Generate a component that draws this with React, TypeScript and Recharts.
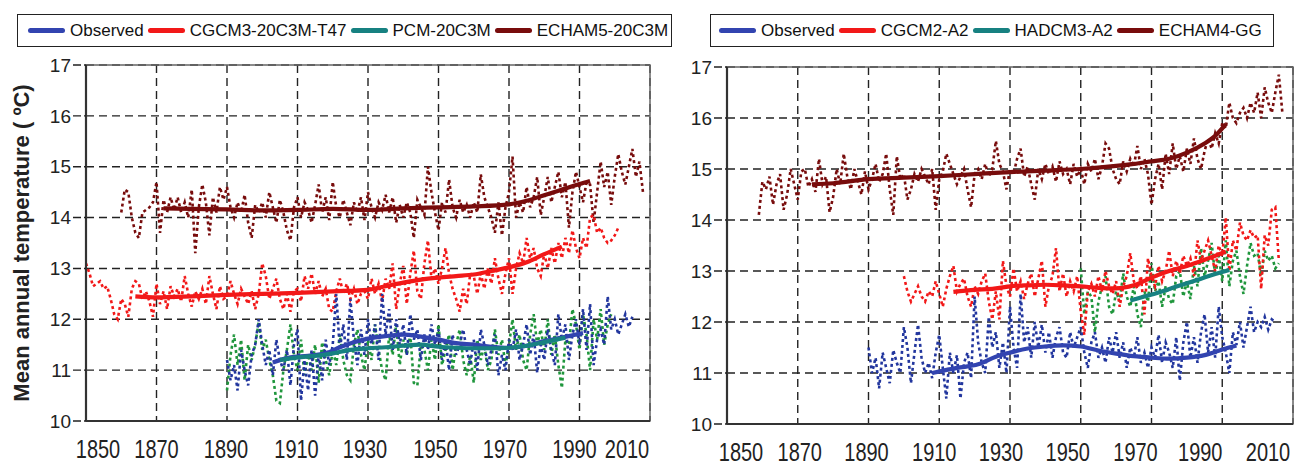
import React from "react";
import {
  LineChart,
  Line,
  XAxis,
  YAxis,
  CartesianGrid,
  ReferenceArea,
} from "recharts";

document.body.style.margin = "0";

const FONT = '"Liberation Sans", Arial, Helvetica, sans-serif';

const yearTicks = [1850, 1870, 1890, 1910, 1930, 1950, 1970, 1990, 2010];
const tempTicks = [10, 11, 12, 13, 14, 15, 16, 17];

// ---------- left panel (20C3M runs) ----------
const obsLeftStart = 1890;
const obsLeft = [
  11.2, 10.8, 11.1, 10.6, 11.4, 11.0, 10.7, 11.3, 11.5, 12.0,
  11.5, 11.1, 11.4, 10.9, 11.6, 11.2, 11.0, 11.4, 10.7, 11.5,
  11.8, 10.4, 11.2, 10.6, 11.4, 10.5, 11.3, 10.8, 11.6, 11.1,
  11.5, 12.5, 11.4, 11.9, 11.2, 12.4, 11.6, 11.1, 11.8, 11.3,
  12.0, 11.5, 11.9, 11.2, 12.5, 11.7, 12.2, 11.4, 12.0, 11.5,
  11.9, 11.3, 12.1, 11.6, 11.8, 11.2, 11.7, 11.4, 11.9, 11.5,
  11.8, 11.2, 11.6, 11.0, 11.7, 11.3, 11.5, 11.8, 11.4, 11.1,
  11.6, 11.0, 11.8, 11.5, 11.1, 11.4, 11.7, 10.9, 11.3, 11.0,
  11.6, 11.4, 11.8, 11.2, 11.5, 11.9, 11.3, 11.7, 10.95, 11.5,
  11.2, 11.8, 11.4, 11.1, 12.1, 11.6, 11.9, 11.2, 11.7, 12.0,
  11.5, 12.2, 11.4, 12.3, 11.1, 11.6, 11.8, 11.5, 12.45, 11.8,
  12.0, 11.7, 11.9, 12.1, 11.85, 12.05,
];
const obsLeftSmoothYears = [1903, 1908, 1913, 1918, 1922, 1926, 1930, 1935, 1940, 1945, 1950, 1955, 1960, 1965, 1970, 1975, 1980, 1985, 1991];
const obsLeftSmooth = [11.15, 11.25, 11.28, 11.33, 11.45, 11.55, 11.62, 11.67, 11.7, 11.66, 11.6, 11.53, 11.5, 11.46, 11.44, 11.48, 11.57, 11.64, 11.73];

const cgcm3Start = 1850;
const cgcm3 = [
  13.1, 12.9, 12.65, 12.7, 12.75, 12.6, 12.65, 12.4, 12.1, 12.0,
  12.4, 12.3, 12.05, 12.6, 12.75, 12.7, 12.4, 12.55, 12.35, 12.05,
  12.7, 12.3, 12.55, 12.2, 12.65, 12.45, 12.6, 12.35, 12.85, 12.5,
  12.25, 12.55, 12.4, 12.6, 12.3, 12.85, 12.5, 12.2, 12.65, 12.4,
  12.45, 12.75, 12.5, 12.3, 12.6, 12.45, 12.3, 12.55, 12.2, 12.5,
  13.1, 12.85, 12.4, 12.6, 12.8, 12.4, 12.2, 12.5, 12.15, 12.55,
  12.6, 12.35, 12.85, 12.6, 12.9, 12.5, 12.75, 12.45, 12.6, 12.2,
  12.15, 12.55, 12.8, 12.5, 12.7, 12.4, 12.6, 12.3, 12.5, 12.55,
  12.4, 12.8, 12.5, 12.7, 12.35, 12.8, 12.6, 13.1, 12.2, 12.7,
  13.05, 12.3, 12.9, 13.35, 12.55, 12.4, 13.1, 13.55, 12.8, 13.0,
  12.7, 13.0, 13.4, 12.9, 12.6, 12.4, 12.15, 12.6, 12.3, 12.9,
  12.85, 12.5, 12.9, 12.6, 13.0, 12.7, 13.2, 12.8, 12.5, 12.9,
  13.2, 12.5, 13.0, 13.3, 13.1, 13.6, 13.2, 13.4, 13.0, 12.85,
  13.3, 13.0, 13.4, 13.1, 13.5, 13.2, 13.6, 13.3, 13.75, 13.4,
  13.2, 13.6, 13.4, 14.0, 14.05, 13.7, 13.8, 13.6, 13.5, 13.55,
  13.65, 13.8,
];
const cgcm3SmoothYears = [1864, 1870, 1880, 1890, 1900, 1910, 1920, 1930, 1935, 1940, 1945, 1950, 1955, 1960, 1965, 1970, 1975, 1980, 1985];
const cgcm3Smooth = [12.45, 12.43, 12.45, 12.48, 12.5, 12.52, 12.55, 12.58, 12.65, 12.72, 12.78, 12.82, 12.85, 12.88, 12.95, 13.02, 13.12, 13.28, 13.43];

const pcmStart = 1890;
const pcm = [
  10.6, 11.3, 11.7, 11.1, 11.6, 10.8, 11.5, 11.2, 11.5, 11.95,
  11.4, 11.6, 11.2, 10.9, 10.4, 10.35, 11.0, 11.4, 11.9, 11.3,
  11.0, 11.6, 10.9, 11.3, 11.0, 11.5, 10.75, 11.55, 11.2, 10.9,
  11.4, 11.1, 11.7, 11.2, 10.9, 10.8, 11.5, 11.8, 11.3, 11.0,
  11.6, 11.2, 11.9, 11.4, 11.0, 10.8, 11.7, 11.3, 11.9, 11.1,
  11.6, 11.3, 11.7, 10.75, 10.7, 11.5, 11.4, 11.0, 11.6, 11.2,
  11.9, 11.1, 11.4, 11.7, 11.0, 11.5, 11.8, 11.2, 10.9, 11.3,
  10.75, 11.6, 11.2, 11.5, 11.0, 11.2, 11.8, 11.3, 11.6, 11.1,
  11.5, 12.0, 11.4, 11.7, 11.2, 11.0, 11.7, 12.1, 11.5, 11.8,
  11.4, 12.0, 11.3, 11.7, 11.1, 10.65, 11.6, 11.5, 12.2, 11.9,
  11.4, 12.1, 11.7, 11.0, 12.0, 11.6, 12.2, 11.5, 11.9, 12.1,
];
const pcmSmoothYears = [1905, 1910, 1915, 1920, 1925, 1930, 1935, 1940, 1945, 1950, 1955, 1960, 1965, 1970, 1975, 1980, 1986];
const pcmSmooth = [11.2, 11.25, 11.28, 11.33, 11.4, 11.43, 11.45, 11.48, 11.5, 11.46, 11.44, 11.43, 11.43, 11.44, 11.48, 11.55, 11.64];

const echam5Start = 1860;
const echam5 = [
  14.1, 14.55, 14.5, 14.0, 13.7, 13.6, 14.1, 14.15, 14.2, 14.3,
  14.7, 13.7, 14.35, 14.1, 14.4, 14.15, 14.4, 14.1, 14.3, 14.0,
  14.55, 13.3, 14.2, 14.65, 14.3, 13.65, 14.4, 14.1, 14.6, 14.35,
  14.6, 14.2, 14.0, 14.3, 14.1, 14.45, 13.9, 13.6, 14.25, 14.1,
  14.3, 14.0, 14.5, 14.2, 13.9, 14.35, 14.1, 13.75, 13.55, 14.2,
  14.4, 14.0, 14.3, 14.15, 13.9, 14.25, 14.65, 14.1, 14.4, 13.95,
  14.7, 14.2, 14.0, 14.35, 14.1, 13.85, 14.3, 14.1, 14.4, 13.95,
  14.5, 14.2, 14.0, 14.3, 14.15, 14.45, 14.1, 14.4, 13.9, 14.25,
  14.0, 14.3, 14.1, 13.6, 14.35, 14.2, 14.05, 15.0, 14.5, 14.1,
  13.75, 14.3, 14.1, 14.75, 14.2, 14.0, 14.35, 14.1, 14.25, 14.0,
  14.3, 14.1, 14.85, 14.4, 14.2, 14.0, 13.7, 14.3, 13.65, 14.2,
  14.5, 15.2, 14.0, 14.3, 14.1, 14.6, 14.2, 14.4, 14.8, 14.05,
  14.4, 14.8, 14.3, 14.6, 14.9, 14.4, 14.7, 13.8, 14.5, 14.9,
  14.6, 14.3, 14.7, 14.65, 13.9, 14.5, 15.1, 14.6, 14.9, 14.25,
  14.8, 15.25, 14.9, 14.65, 15.0, 15.35, 14.8, 15.1, 14.5,
];
const echam5SmoothYears = [1872, 1880, 1890, 1900, 1910, 1920, 1930, 1940, 1950, 1960, 1970, 1975, 1980, 1985, 1990, 1993];
const echam5Smooth = [14.18, 14.17, 14.16, 14.14, 14.15, 14.17, 14.15, 14.18, 14.2, 14.22, 14.26, 14.33, 14.44, 14.55, 14.66, 14.72];

// ---------- right panel (A2 / GG runs) ----------
const obsRightStart = 1890;
const obsRight = [
  11.5, 11.0, 11.3, 10.7, 11.4, 11.1, 10.8, 11.45, 11.2, 11.0,
  11.9, 11.5, 10.8, 11.4, 11.95, 11.3, 11.0, 11.2, 10.9, 11.4,
  11.75, 11.1, 10.5, 11.4, 11.0, 11.35, 10.5, 11.2, 11.4, 10.9,
  12.5, 11.6, 11.2, 11.0, 12.1, 11.5, 11.8, 11.1, 11.6, 11.0,
  12.3, 11.5, 11.1, 12.55, 11.6, 11.9, 11.3, 12.0, 11.5, 11.95,
  11.4, 11.8, 11.3, 11.7, 11.9, 11.4, 11.3, 11.8, 11.5, 11.7,
  11.9, 11.4, 11.1, 11.6, 11.8, 11.3, 11.5, 11.2, 11.7, 11.4,
  11.8, 11.3, 11.6, 11.1, 11.5, 11.3, 11.7, 11.2, 11.4, 11.1,
  11.5, 11.3, 11.75, 11.2, 11.6, 11.4, 11.1, 11.7, 10.85, 11.6,
  12.0, 11.3, 11.7, 11.2, 11.8, 12.15, 11.4, 11.9, 11.3, 12.3,
  11.7, 11.4, 11.0, 11.8, 11.55, 12.0, 11.5, 11.9, 12.3, 11.8,
  12.0, 11.9, 12.1, 11.85, 12.05, 12.0,
];
const obsRightSmoothYears = [1908, 1915, 1921, 1926, 1930, 1935, 1940, 1945, 1950, 1955, 1960, 1965, 1970, 1975, 1980, 1985, 1990, 1994];
const obsRightSmooth = [11.0, 11.1, 11.17, 11.32, 11.4, 11.48, 11.52, 11.54, 11.52, 11.44, 11.38, 11.33, 11.3, 11.28, 11.3, 11.35, 11.46, 11.54];

const cgcm2Start = 1900;
const cgcm2 = [
  12.9, 12.6, 12.4, 12.55, 12.7, 12.5, 12.4, 12.6, 12.5, 12.8,
  12.55, 12.3, 12.65, 12.9, 13.1, 12.6, 12.75, 12.85, 12.5, 12.3,
  12.7, 12.55, 12.8, 12.95, 12.4, 12.05, 12.6, 12.05, 13.2, 12.7,
  12.5, 13.05, 12.6, 12.8, 12.45, 12.75, 12.95, 12.5, 12.85, 13.2,
  12.3, 12.7, 12.9, 13.45, 12.6, 12.95, 12.5, 12.8, 12.6, 12.9,
  12.2, 11.75, 12.6, 12.75, 12.5, 12.9, 12.6, 13.0, 12.7, 12.55,
  12.8, 12.3, 12.7, 12.9, 13.35, 12.8, 12.65, 12.9, 12.15, 13.25,
  12.9, 12.7, 13.1, 12.8, 13.0, 13.4, 12.9, 13.2, 12.95, 13.3,
  13.1, 13.25, 12.9, 13.6, 13.2, 13.4, 13.6, 13.3, 13.0, 13.5,
  13.3, 14.05, 13.0, 13.6, 13.4, 13.95, 13.7, 13.6, 13.8, 13.65,
  13.7, 12.65, 13.7, 13.5, 14.2, 14.25, 13.2,
];
const cgcm2SmoothYears = [1914, 1920, 1925, 1930, 1935, 1940, 1945, 1950, 1955, 1960, 1965, 1970, 1975, 1980, 1985, 1991];
const cgcm2Smooth = [12.59, 12.63, 12.65, 12.7, 12.72, 12.73, 12.72, 12.7, 12.67, 12.66, 12.72, 12.87, 13.0, 13.1, 13.22, 13.38];

const hadcm3Start = 1950;
const hadcm3 = [
  13.05, 12.15, 12.6, 12.5, 11.8, 12.4, 12.7, 12.9, 12.3, 12.15,
  12.6, 12.4, 12.95, 12.5, 12.3, 12.7, 12.15, 11.9, 12.6, 12.4,
  13.15, 12.6, 12.8, 12.3, 12.7, 12.45, 12.35, 12.9, 13.0, 12.5,
  12.8, 12.45, 13.1, 12.7, 13.45, 12.9, 13.2, 13.55, 12.9, 13.3,
  12.8, 13.6, 12.7, 13.2, 13.4, 12.9, 12.55, 13.1, 13.55, 13.3,
  13.35, 12.9, 13.4, 13.2, 13.3, 13.05, 13.15,
];
const hadcm3SmoothYears = [1964, 1968, 1972, 1976, 1980, 1984, 1988, 1992];
const hadcm3Smooth = [12.42, 12.5, 12.58, 12.67, 12.76, 12.85, 12.94, 13.02];

const echam4Start = 1859;
const echam4 = [
  14.1, 14.75, 14.6, 14.85, 14.3, 14.7, 14.9, 14.2, 14.5, 15.0, 14.7,
  14.4, 14.95, 15.0, 14.65, 14.8, 14.55, 15.2, 14.7, 14.85, 14.15,
  14.45, 15.0, 14.7, 15.3, 14.85, 14.6, 15.0, 14.75, 14.5, 14.95,
  14.6, 14.8, 15.1, 14.75, 14.9, 15.3, 14.6, 14.1, 15.25, 14.8,
  14.9, 14.4, 14.6, 14.9, 14.75, 15.0, 14.85, 14.7, 15.0, 14.2,
  14.8, 14.95, 15.3, 15.1, 14.9, 14.7, 14.85, 15.0, 14.6, 14.25,
  14.9, 15.0, 14.8, 15.1, 14.85, 15.0, 15.55, 15.1, 14.95, 14.6,
  15.0, 14.9, 15.2, 15.4, 14.85, 15.05, 14.7, 14.4, 15.0, 14.8,
  15.1, 14.9, 15.05, 14.75, 15.15, 14.9, 15.0, 14.7, 15.1, 14.85,
  15.0, 14.7, 15.1, 14.95, 15.2, 14.8, 15.05, 15.5, 15.4, 15.0,
  14.8, 14.7, 15.15, 14.95, 15.2, 15.05, 15.45, 15.0, 15.2, 14.9,
  14.3, 14.8, 15.1, 14.6, 15.3, 14.9, 15.5, 15.0, 15.25, 14.95,
  15.4, 15.1, 15.6, 15.2, 15.0, 15.35, 15.6, 15.4, 15.7, 15.5,
  15.9, 15.8, 16.3, 16.0, 15.9, 16.1, 16.2, 16.0, 16.3, 16.1,
  16.5, 16.0, 16.6, 16.3, 16.1, 16.5, 16.85, 16.1,
];
const echam4SmoothYears = [1874, 1880, 1890, 1900, 1910, 1920, 1930, 1940, 1950, 1960, 1965, 1970, 1975, 1980, 1985, 1988, 1991];
const echam4Smooth = [14.7, 14.72, 14.8, 14.83, 14.86, 14.9, 14.94, 14.97, 15.0, 15.06, 15.1, 15.15, 15.2, 15.32, 15.5, 15.65, 15.88];

// ---------- colours ----------
const BLUE = "#22369e";
const BLUE_SMOOTH = "#3244b0";
const RED = "#f21818";
const GREEN = "#1f963c";
const TEAL = "#178181";
const DARK_RED = "#780c0c";

const annual = (start: number, values: number[]) =>
  values.map((t, i) => ({ year: start + i, t }));
const smooth = (years: number[], values: number[]) =>
  years.map((year, i) => ({ year, t: values[i] }));

const DOTS = "3 3";

function YearTick(props: any) {
  const { x, y, payload, index, shifts } = props;
  const dx = shifts[index] ?? 0;
  return (
    <g transform={`translate(${x + dx},${y + 28}) scale(1,1.3)`}>
      <text
        x={0}
        y={0}
        textAnchor="middle"
        dominantBaseline="central"
        fontSize={20}
        fontFamily={FONT}
        fill="#222"
      >
        {payload.value}
      </text>
    </g>
  );
}

function YLabel(props: any) {
  const vb = props.viewBox || { x: 0, y: 65, width: 86, height: 356 };
  const cx = vb.x + 21;
  const cy = vb.y + vb.height / 2;
  return (
    <text
      x={cx}
      y={cy}
      transform={`rotate(-90 ${cx} ${cy})`}
      textAnchor="middle"
      dominantBaseline="central"
      fontSize={22}
      fontWeight="bold"
      fontFamily={FONT}
      fill="#222"
    >
      Mean annual temperature ( ºC)
    </text>
  );
}

interface LegendItem {
  name: string;
  color: string;
}

function LegendBox({ items, left, width, pad }: { items: LegendItem[]; left: number; width: number; pad: number }) {
  return (
    <div
      style={{
        position: "absolute",
        left,
        top: 14,
        width,
        height: 33,
        boxSizing: "border-box",
        border: "1.5px solid #222",
        display: "flex",
        alignItems: "center",
        paddingLeft: pad,
        fontFamily: FONT,
        fontSize: 17,
        color: "#111",
        background: "#fff",
        whiteSpace: "nowrap",
      }}
    >
      {items.map((it) => (
        <span key={it.name} style={{ display: "flex", alignItems: "center", marginRight: 4 }}>
          <span style={{ width: 37, height: 5, borderRadius: 3, background: it.color, marginRight: 5 }} />
          <span>{it.name}</span>
        </span>
      ))}
    </div>
  );
}

interface Series {
  annual: { year: number; t: number }[];
  smooth: { year: number; t: number }[];
  dotColor: string;
  lineColor: string;
}

function Panel({
  width,
  margin,
  yAxisWidth,
  series,
  shifts,
  withLabel,
}: {
  width: number;
  margin: { top: number; right: number; bottom: number; left: number };
  yAxisWidth: number;
  series: Series[];
  shifts: number[];
  withLabel: boolean;
}) {
  return (
    <LineChart width={width} height={469} margin={margin}>
      <CartesianGrid stroke="#222" strokeDasharray="8 5" strokeWidth={1.4} />
      <XAxis
        type="number"
        dataKey="year"
        domain={[1850, 2010]}
        ticks={yearTicks}
        interval={0}
        allowDataOverflow
        height={40}
        tickSize={0}
        tickMargin={0}
        tickLine={false}
        axisLine={{ stroke: "#333", strokeWidth: 2.2 }}
        tick={<YearTick shifts={shifts} />}
      />
      <YAxis
        type="number"
        domain={[10, 17]}
        ticks={tempTicks}
        interval={0}
        allowDataOverflow
        width={yAxisWidth}
        tickSize={13}
        tickMargin={2}
        tickLine={{ stroke: "#222", strokeDasharray: "8 3", strokeWidth: 1.4 }}
        axisLine={{ stroke: "#333", strokeWidth: 2.2 }}
        tick={{ fontSize: 19, fill: "#222", fontFamily: FONT }}
        label={withLabel ? <YLabel /> : undefined}
      />
      <ReferenceArea x1={1850} x2={2010} y1={10} y2={17} fill="none" stroke="#666" strokeWidth={1.5} />
      {series.map((s, i) => (
        <Line
          key={`a${i}`}
          data={s.annual}
          dataKey="t"
          type="linear"
          stroke={s.dotColor}
          strokeWidth={2.6}
          strokeDasharray={DOTS}
          dot={false}
          legendType="none"
          isAnimationActive={false}
        />
      ))}
      {series.map((s, i) => (
        <Line
          key={`s${i}`}
          data={s.smooth}
          dataKey="t"
          type="monotone"
          stroke={s.lineColor}
          strokeWidth={4.2}
          dot={false}
          legendType="none"
          isAnimationActive={false}
        />
      ))}
    </LineChart>
  );
}

const leftSeries: Series[] = [
  { annual: annual(echam5Start, echam5), smooth: smooth(echam5SmoothYears, echam5Smooth), dotColor: DARK_RED, lineColor: DARK_RED },
  { annual: annual(cgcm3Start, cgcm3), smooth: smooth(cgcm3SmoothYears, cgcm3Smooth), dotColor: RED, lineColor: RED },
  { annual: annual(pcmStart, pcm), smooth: smooth(obsLeftSmoothYears, obsLeftSmooth), dotColor: GREEN, lineColor: BLUE_SMOOTH },
  { annual: annual(obsLeftStart, obsLeft), smooth: smooth(pcmSmoothYears, pcmSmooth), dotColor: BLUE, lineColor: TEAL },
];

const rightSeries: Series[] = [
  { annual: annual(echam4Start, echam4), smooth: smooth(echam4SmoothYears, echam4Smooth), dotColor: DARK_RED, lineColor: DARK_RED },
  { annual: annual(hadcm3Start, hadcm3), smooth: smooth(obsRightSmoothYears, obsRightSmooth), dotColor: GREEN, lineColor: BLUE_SMOOTH },
  { annual: annual(cgcm2Start, cgcm2), smooth: smooth(cgcm2SmoothYears, cgcm2Smooth), dotColor: RED, lineColor: RED },
  { annual: annual(obsRightStart, obsRight), smooth: smooth(hadcm3SmoothYears, hadcm3Smooth), dotColor: BLUE, lineColor: TEAL },
];

const leftLegend: LegendItem[] = [
  { name: "Observed", color: BLUE_SMOOTH },
  { name: "CGCM3-20C3M-T47", color: RED },
  { name: "PCM-20C3M", color: TEAL },
  { name: "ECHAM5-20C3M", color: DARK_RED },
];
const rightLegend: LegendItem[] = [
  { name: "Observed", color: BLUE_SMOOTH },
  { name: "CGCM2-A2", color: RED },
  { name: "HADCM3-A2", color: TEAL },
  { name: "ECHAM4-GG", color: DARK_RED },
];

const leftShifts = [12, 0, -1, -1, -3, -3, -4, -5, -23];
const rightShifts = [14, 2, -2, -5, -9, -13, -16, -22, -25];

export default function App() {
  return (
    <div style={{ position: "relative", width: 1305, height: 469, background: "#fff", overflow: "hidden" }}>
      <div style={{ position: "absolute", left: 0, top: 0 }}>
        <Panel
          width={680}
          margin={{ top: 65, right: 30, bottom: 8, left: 0 }}
          yAxisWidth={86}
          series={leftSeries}
          shifts={leftShifts}
          withLabel
        />
      </div>
      <div style={{ position: "absolute", left: 680, top: 0 }}>
        <Panel
          width={625}
          margin={{ top: 67, right: 12, bottom: 5, left: 0 }}
          yAxisWidth={47}
          series={rightSeries}
          shifts={rightShifts}
          withLabel={false}
        />
      </div>
      <LegendBox items={leftLegend} left={17} width={655} pad={10} />
      <LegendBox items={rightLegend} left={710} width={564} pad={8} />
    </div>
  );
}
